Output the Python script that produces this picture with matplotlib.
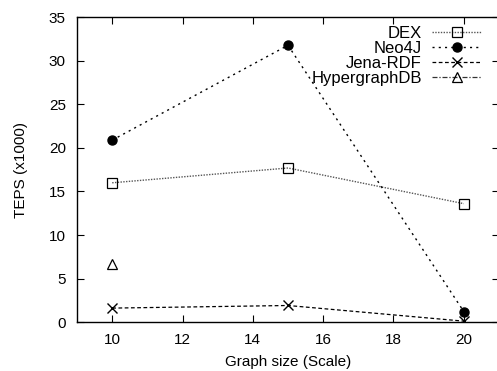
import numpy as np
import matplotlib
matplotlib.use('Agg')
import matplotlib.pyplot as plt

plt.rcParams['font.family'] = ['Liberation Sans', 'DejaVu Sans']

scale = [10, 15, 20]
dex = [16.0, 17.7, 13.6]
neo4j = [20.9, 31.8, 1.2]
jena = [1.6, 1.9, 0.1]
hyper = [6.7, np.nan, np.nan]

fig = plt.figure(figsize=(4.97, 3.71), dpi=100)
ax = fig.add_axes([0.155, 0.132, 0.849, 0.821])

ax.plot(scale, dex, color='#555555', linestyle=(0, (1, 1)), linewidth=1,
        marker='s', markersize=7, markerfacecolor='none', markeredgecolor='black',
        markeredgewidth=0.9, label='DEX')
ax.plot(scale, neo4j, color='black', linestyle=(0, (1.5, 3)), linewidth=1,
        marker='o', markersize=6.5, markerfacecolor='black', markeredgecolor='black',
        label='Neo4J')
ax.plot(scale, jena, color='black', linestyle=(0, (3, 2)), linewidth=0.9,
        marker='x', markersize=7.5, markeredgecolor='black', markeredgewidth=1,
        label='Jena-RDF')
ax.plot(scale, hyper, color='#333333', linestyle=(0, (4, 1.5, 1, 1.5)), linewidth=0.9,
        marker='^', markersize=7, markerfacecolor='none', markeredgecolor='black',
        markeredgewidth=0.9, label='HypergraphDB')

ax.set_xlim(9, 21)
ax.set_ylim(0, 35)
ax.set_xticks([10, 12, 14, 16, 18, 20])
ax.set_yticks(range(0, 36, 5))
ax.tick_params(direction='in', top=True, right=True, length=5, width=0.8,
               labelsize=11, pad=8)
for s in ax.spines.values():
    s.set_linewidth(1)

ax.set_xlabel('Graph size (Scale)', fontsize=11, labelpad=6)
ax.set_ylabel('TEPS (x1000)', fontsize=11, labelpad=15)

ax.legend(loc='upper right', frameon=False, markerfirst=False, fontsize=12,
          handlelength=3.0, handletextpad=0.6, labelspacing=0.0,
          borderaxespad=0.0, bbox_to_anchor=(0.975, 0.995))

fig.savefig('out.png', dpi=100)
